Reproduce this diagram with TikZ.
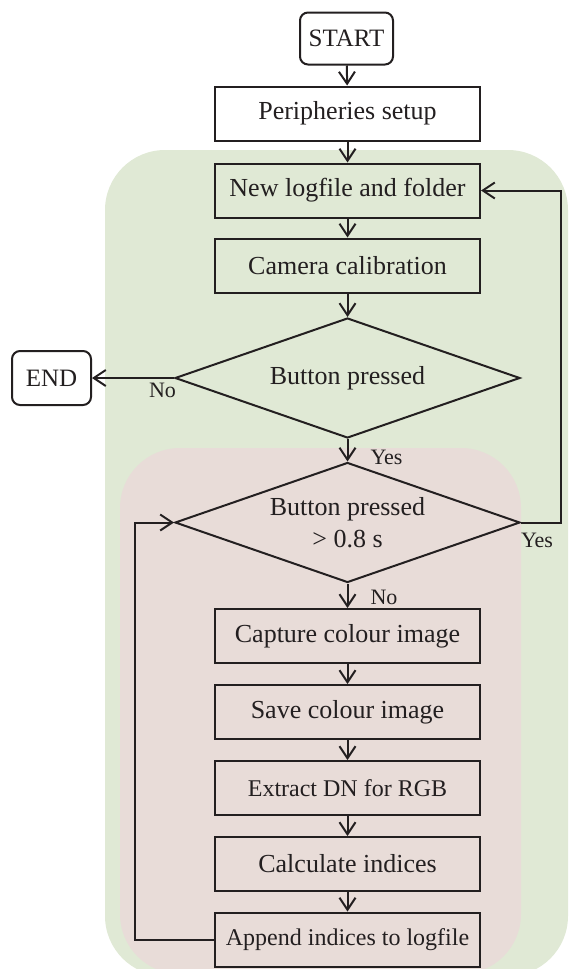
\documentclass[tikz,border=0pt]{standalone}
\usepackage{fontspec}
\setmainfont{Liberation Serif}
\usetikzlibrary{arrows.meta, positioning, shapes.geometric, backgrounds}
\definecolor{fcInk}{HTML}{231F20}
\definecolor{fcGreen}{HTML}{E0E9D5}
\definecolor{fcRose}{HTML}{E8DCD8}
\tikzset{
  procbox/.style={
    draw=fcInk, line width=1pt, inner sep=0pt, align=center,
    minimum width=132.5pt, minimum height=27pt,
    font=\fontsize{13}{15}\selectfont, text=fcInk
  },
  smallbox/.style={procbox, font=\fontsize{12}{14}\selectfont},
  term/.style={procbox, rounded corners=4pt, font=\fontsize{12.5}{15}\selectfont},
  decision/.style={
    draw=fcInk, line width=1pt, diamond, aspect=2.875, inner sep=0pt,
    minimum width=172.5pt, minimum height=60pt, align=center,
    font=\fontsize{13}{16}\selectfont, text=fcInk
  },
  flow/.style={-{Straight Barb[length=6pt, width=8pt]}, line width=1pt, draw=fcInk},
  lbl/.style={font=\fontsize{11}{13}\selectfont, text=fcInk, inner sep=1pt},
  zone/.style={rounded corners=30pt, draw=none},
}

\begin{document}
\begin{tikzpicture}[x=0.5pt, y=-0.5pt]
  \useasboundingbox (0,0) rectangle (570,969);
  \fill[zone, fcGreen] (105,150) rectangle (568,976);
  \fill[zone, fcRose]  (120,448) rectangle (521,974);

  \node[term, minimum width=46.5pt, minimum height=26pt] (start) at (346.5,38.5) {START};
  \node[procbox, fill=white] (setup)  at (347.5,113.5) {Peripheries setup};
  \node[procbox] (newlog) at (347.5,190.5) {New logfile and folder};
  \node[procbox] (calib)  at (347.5,265.5) {Camera calibration};
  \node[decision] (btn) at (347.5,378) {Button pressed};
  \node[term, minimum width=39.5pt] (end) at (51.5,378) {END};

  \node[decision] (hold) at (347.5,522.5) {Button pressed\\> 0.8 s};
  \node[procbox]  (capture) at (347.5,636) {Capture colour image};
  \node[procbox]  (save)    at (347.5,712) {Save colour image};
  \node[smallbox] (extract) at (347.5,788) {Extract DN for RGB};
  \node[procbox]  (calc)    at (347.5,864) {Calculate indices};
  \node[smallbox] (append)  at (347.5,939.5) {Append indices to logfile};

  \draw[flow] (start) -- (setup);
  \draw[flow] (setup) -- (newlog);
  \draw[flow] (newlog) -- (calib);
  \draw[flow] (calib) -- (btn);
  \draw[flow] (btn.west) -- node[lbl, below, pos=0.14, yshift=-1pt] {No} (end);
  \draw[flow] (btn) -- node[lbl, right, pos=0.8, xshift=10pt] {Yes} (hold);
  \draw[flow] (hold.east) -- node[lbl, below, pos=0.4, yshift=-4pt] {Yes} ++(40,0) |- (newlog.east);
  \draw[flow] (hold) -- node[lbl, right, pos=0.55, xshift=10pt] {No} (capture);
  \draw[flow] (capture) -- (save);
  \draw[flow] (save) -- (extract);
  \draw[flow] (extract) -- (calc);
  \draw[flow] (calc) -- (append);
  \draw[flow] (append.west) -- ++(-79,0) |- (hold.west);
\end{tikzpicture}
\end{document}
